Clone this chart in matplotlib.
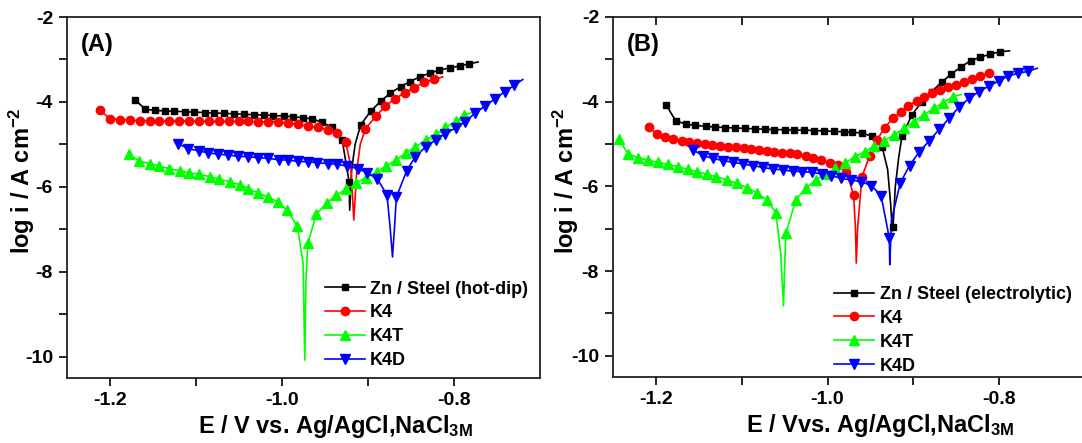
import numpy as np
import matplotlib.pyplot as plt
from matplotlib.ticker import FixedLocator, NullFormatter

plt.rcParams['font.family'] = ['Liberation Sans', 'DejaVu Sans']
plt.rcParams['font.weight'] = 'bold'
plt.rcParams['axes.unicode_minus'] = False
plt.rcParams['mathtext.fontset'] = 'custom'
plt.rcParams['mathtext.rm'] = 'Liberation Sans:bold'
plt.rcParams['mathtext.bf'] = 'Liberation Sans:bold'
plt.rcParams['mathtext.default'] = 'rm'

# ---------------- panel (A): hot-dip ----------------
# marker points (E / V, log i)
eA_zn = [-1.171, -1.159, -1.148, -1.136, -1.125, -1.113, -1.102, -1.090, -1.079, -1.067, -1.056,
         -1.044, -1.033, -1.021, -1.010, -0.998, -0.987, -0.976, -0.965, -0.953, -0.942, -0.930,
         -0.922, -0.9085, -0.897, -0.885, -0.874, -0.862, -0.851, -0.840, -0.828, -0.817, -0.805,
         -0.793, -0.782]
iA_zn = [-3.95, -4.17, -4.20, -4.21, -4.22, -4.23, -4.24, -4.25, -4.26, -4.27, -4.28,
         -4.29, -4.30, -4.31, -4.32, -4.33, -4.35, -4.37, -4.40, -4.48, -4.60, -4.90,
         -5.88, -4.54, -4.22, -3.98, -3.79, -3.64, -3.52, -3.41, -3.32, -3.25, -3.20,
         -3.15, -3.10]
# line-only points (Ecorr spike, end of scan)
lA_zn_e = [-0.9213, -0.919, -0.915, -0.772]
lA_zn_i = [-6.55, -5.60, -5.00, -3.06]

eA_k4 = [-1.212, -1.200, -1.1885, -1.177, -1.1655, -1.154, -1.1425, -1.131, -1.1195, -1.108,
         -1.0965, -1.085, -1.0735, -1.062, -1.0505, -1.039, -1.0275, -1.016, -1.0045, -0.993,
         -0.9815, -0.970, -0.9585, -0.947, -0.9355, -0.926,
         -0.903, -0.891, -0.880, -0.869, -0.857, -0.846, -0.835, -0.823]
iA_k4 = [-4.20, -4.39, -4.42, -4.43, -4.44, -4.44, -4.45, -4.45, -4.45, -4.45,
         -4.45, -4.46, -4.46, -4.46, -4.46, -4.46, -4.47, -4.47, -4.47, -4.50,
         -4.53, -4.57, -4.60, -4.65, -4.74, -4.95,
         -4.63, -4.34, -4.10, -3.93, -3.78, -3.66, -3.54, -3.47]
lA_k4_e = [-0.920, -0.9165, -0.913, -0.909, -0.813]
lA_k4_i = [-5.50, -6.78, -5.60, -5.00, -3.41]

eA_k4t = [-1.178, -1.166, -1.154, -1.143, -1.131, -1.119, -1.108, -1.096, -1.084, -1.073, -1.061,
          -1.049, -1.039, -1.028, -1.016, -1.005, -0.994, -0.982,
          -0.970, -0.960, -0.948, -0.937, -0.925, -0.914, -0.902, -0.890, -0.879, -0.867, -0.856,
          -0.845, -0.833, -0.821, -0.810, -0.798, -0.788]
iA_k4t = [-5.23, -5.39, -5.45, -5.51, -5.57, -5.62, -5.67, -5.70, -5.76, -5.82, -5.88,
          -5.95, -6.04, -6.14, -6.24, -6.35, -6.55, -6.93,
          -7.33, -6.64, -6.38, -6.20, -6.04, -5.91, -5.78, -5.65, -5.51, -5.36, -5.20,
          -5.06, -4.90, -4.76, -4.60, -4.46, -4.31]
lA_k4t_e = [-0.9755, -0.9735, -0.9722, -0.778]
lA_k4t_i = [-7.80, -10.08, -8.20, -4.24]

eA_k4d = [-1.121, -1.109, -1.097, -1.086, -1.074, -1.063, -1.051, -1.039, -1.028, -1.016, -1.004,
          -0.993, -0.981, -0.970, -0.959, -0.947, -0.936, -0.924, -0.912, -0.901, -0.889, -0.878,
          -0.867, -0.855, -0.845, -0.833, -0.821, -0.810, -0.798, -0.787, -0.776, -0.764, -0.752,
          -0.741, -0.730]
iA_k4d = [-4.98, -5.10, -5.15, -5.20, -5.23, -5.25, -5.28, -5.29, -5.31, -5.33, -5.36,
          -5.37, -5.40, -5.41, -5.43, -5.45, -5.47, -5.51, -5.57, -5.67, -5.82, -6.18,
          -6.24, -5.62, -5.29, -5.06, -4.89, -4.75, -4.61, -4.47, -4.27, -4.10, -3.92,
          -3.76, -3.61]
lA_k4d_e = [-0.8745, -0.8715, -0.8690, -0.720]
lA_k4d_i = [-6.90, -7.65, -6.90, -3.47]

# ---------------- panel (B): electrolytic ----------------
eB_zn = [-1.188, -1.177, -1.165, -1.154, -1.142, -1.131, -1.119, -1.108, -1.096, -1.085, -1.073,
         -1.062, -1.050, -1.039, -1.027, -1.016, -1.004, -0.993, -0.981, -0.971, -0.9595, -0.948,
         -0.9364, -0.9237,
         -0.9133, -0.9017, -0.890, -0.8786, -0.867, -0.856, -0.844, -0.833, -0.822, -0.811, -0.799]
iB_zn = [-4.08, -4.45, -4.53, -4.56, -4.58, -4.60, -4.61, -4.62, -4.63, -4.64, -4.65,
         -4.66, -4.66, -4.67, -4.67, -4.68, -4.69, -4.70, -4.71, -4.72, -4.74, -4.82,
         -5.06, -6.97,
         -4.82, -4.31, -4.00, -3.76, -3.54, -3.35, -3.17, -3.03, -2.95, -2.88, -2.82]
lB_zn_e = [-0.930, -0.9265, -0.9245, -0.921, -0.917, -0.788]
lB_zn_i = [-5.60, -6.40, -7.05, -6.00, -5.30, -2.80]

eB_k4 = [-1.2077, -1.1988, -1.1892, -1.1796, -1.1699, -1.1611, -1.1518, -1.1430, -1.1341, -1.1249,
         -1.1160, -1.1071, -1.0979, -1.0890, -1.0802, -1.0709, -1.0620, -1.0532, -1.0439, -1.0351,
         -1.0254, -1.0166, -1.0073, -0.9977, -0.9881, -0.9780, -0.9696,
         -0.960, -0.951, -0.9426, -0.933, -0.9241, -0.9144, -0.906, -0.8963, -0.8875, -0.8778,
         -0.8694, -0.8597, -0.850, -0.8412, -0.8316, -0.822, -0.8123]
iB_k4 = [-4.59, -4.77, -4.83, -4.88, -4.92, -4.96, -4.98, -5.01, -5.02, -5.05,
         -5.06, -5.08, -5.10, -5.12, -5.14, -5.16, -5.18, -5.20, -5.22, -5.24,
         -5.28, -5.32, -5.38, -5.44, -5.49, -5.67, -6.20,
         -5.78, -5.28, -4.90, -4.61, -4.39, -4.24, -4.10, -3.98, -3.88, -3.80,
         -3.72, -3.66, -3.61, -3.54, -3.47, -3.39, -3.33]
lB_k4_e = [-0.9675, -0.9665, -0.9650]
lB_k4_i = [-7.00, -7.81, -7.00]

eB_k4t = [-1.2432, -1.2324, -1.2208, -1.2092, -1.1977, -1.1861, -1.1746, -1.1630, -1.1526, -1.1410,
          -1.1295, -1.1168, -1.1052, -1.0936, -1.0821, -1.0705, -1.0601,
          -1.0486, -1.037, -1.0254, -1.0139, -1.0023, -0.9908, -0.980, -0.9684, -0.9568, -0.9453,
          -0.9337, -0.9225, -0.9110, -0.8994, -0.8879, -0.8763, -0.8655, -0.8540]
iB_k4t = [-4.89, -5.23, -5.32, -5.38, -5.43, -5.48, -5.53, -5.60, -5.65, -5.71,
          -5.77, -5.85, -5.93, -6.03, -6.16, -6.32, -6.63,
          -7.11, -6.32, -6.04, -5.85, -5.71, -5.57, -5.45, -5.30, -5.18, -5.04,
          -4.92, -4.78, -4.63, -4.47, -4.31, -4.16, -4.02, -3.88]
lB_k4t_e = [-1.0545, -1.0513, -1.0500, -0.8443]
lB_k4t_i = [-7.60, -8.82, -7.90, -3.83]

eB_k4d = [-1.1565, -1.1449, -1.1333, -1.1218, -1.1102, -1.0987, -1.0871, -1.0755, -1.064, -1.0524,
          -1.0408, -1.0293, -1.0177, -1.0062, -0.9954, -0.9838, -0.9723, -0.9607, -0.9491, -0.9376,
          -0.9280,
          -0.9153, -0.9045, -0.893, -0.8813, -0.8697, -0.8582, -0.8466, -0.835, -0.8235, -0.812,
          -0.8004, -0.7892, -0.7776, -0.7661]
iB_k4d = [-5.14, -5.28, -5.34, -5.39, -5.43, -5.47, -5.51, -5.55, -5.59, -5.61,
          -5.64, -5.65, -5.67, -5.71, -5.75, -5.81, -5.85, -5.89, -5.98, -6.22,
          -7.22,
          -5.92, -5.51, -5.18, -4.92, -4.65, -4.39, -4.12, -3.92, -3.76, -3.63,
          -3.51, -3.39, -3.33, -3.28]
lB_k4d_e = [-0.9275, -0.9255, -0.7557]
lB_k4d_i = [-7.85, -6.80, -3.21]

labels_A = ['Zn / Steel (hot-dip)', 'K4', 'K4T', 'K4D']
labels_B = ['Zn / Steel (electrolytic)', 'K4', 'K4T', 'K4D']
colors = ['black', '#ff0000', '#00ff00', '#0000ff']
markers = ['s', 'o', '^', 'v']
msizes = [5, 6, 6.5, 6.5]

series_A = [(eA_zn, iA_zn, lA_zn_e, lA_zn_i), (eA_k4, iA_k4, lA_k4_e, lA_k4_i),
            (eA_k4t, iA_k4t, lA_k4t_e, lA_k4t_i), (eA_k4d, iA_k4d, lA_k4d_e, lA_k4d_i)]
series_B = [(eB_zn, iB_zn, lB_zn_e, lB_zn_i), (eB_k4, iB_k4, lB_k4_e, lB_k4_i),
            (eB_k4t, iB_k4t, lB_k4t_e, lB_k4t_i), (eB_k4d, iB_k4d, lB_k4d_e, lB_k4d_i)]


def draw_panel(ax, series, labels, tag, xlabel, leg_xy, ylab_x):
    for (e, i, le, li), lab, c, m, ms in zip(series, labels, colors, markers, msizes):
        ee = np.concatenate([e, le])
        ii = np.concatenate([i, li])
        order = np.argsort(ee, kind='stable')
        ax.plot(ee[order], ii[order], '-', color=c, lw=1.2, zorder=2)
        ax.plot(e, i, ls='none', marker=m, color=c, ms=ms, zorder=3)
        ax.plot([], [], '-', color=c, lw=1.2, marker=m, ms=ms, label=lab)

    ax.set_xlim(-1.25, -0.70)
    ax.set_ylim(-10.5, -2)
    ax.xaxis.set_major_locator(FixedLocator([-1.2, -1.0, -0.8]))
    ax.xaxis.set_minor_locator(FixedLocator([-1.1, -0.9]))
    ax.yaxis.set_major_locator(FixedLocator([-10, -8, -6, -4, -2]))
    ax.yaxis.set_minor_locator(FixedLocator([-9, -7, -5, -3]))
    ax.xaxis.set_minor_formatter(NullFormatter())
    ax.set_xticklabels(['-1.2', '-1.0', '-0.8'])
    ax.set_yticklabels(['-10', '-8', '-6', '-4', '-2'])
    ax.tick_params(which='both', direction='out', length=6, width=1.2, labelsize=14, pad=4)
    for s in ax.spines.values():
        s.set_linewidth(1.3)
        s.set_color('#222222')

    ax.set_xlabel(xlabel, fontsize=17, fontweight='bold')
    ax.xaxis.set_label_coords(0.567, -0.098)
    ax.set_ylabel(r'log i / A cm$^{-2}$', fontsize=17, fontweight='bold')
    ax.yaxis.set_label_coords(ylab_x, 0.546)
    ax.text(0.03, 0.925, tag, transform=ax.transAxes, fontsize=17, fontweight='bold',
            va='center', ha='left')
    ax.legend(loc='upper left', bbox_to_anchor=leg_xy, frameon=False, fontsize=13,
              handlelength=2.2, handletextpad=0.3, labelspacing=0.38,
              borderpad=0, borderaxespad=0)


fig = plt.figure(figsize=(10.82, 4.43), dpi=100)
axA = fig.add_axes([67 / 1082, 65 / 443, 473 / 1082, 361 / 443])
axB = fig.add_axes([613 / 1082, 66 / 443, 472 / 1082, 360 / 443])

draw_panel(axA, series_A, labels_A, '(A)', r'E / V vs. Ag/AgCl,NaCl$_{3M}$', (0.545, 0.27), -0.064)
draw_panel(axB, series_B, labels_B, '(B)', r'E / Vvs. Ag/AgCl,NaCl$_{3M}$', (0.469, 0.253), -0.067)
axB.tick_params(axis='x', which='both', top=True)
for t in axB.xaxis.get_ticklines(minor=False)[1::2] + axB.xaxis.get_ticklines(minor=True)[1::2]:
    t.set_marker(3)

fig.savefig('out.png', dpi=100)
